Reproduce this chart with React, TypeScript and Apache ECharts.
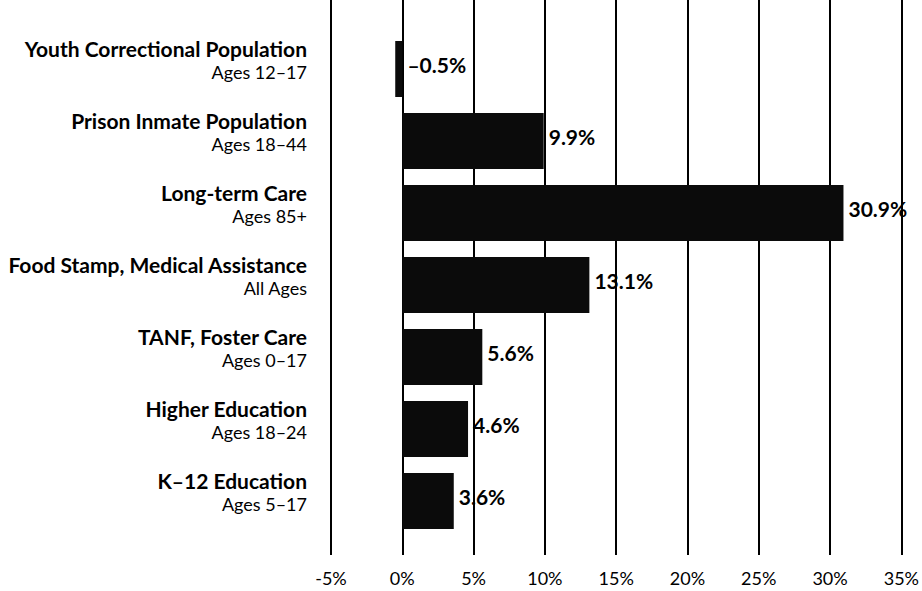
import React, { useEffect, useRef } from "react";
import * as echarts from "echarts";

const categories = [
  "Youth Correctional Population",
  "Prison Inmate Population",
  "Long-term Care",
  "Food Stamp, Medical Assistance",
  "TANF, Foster Care",
  "Higher Education",
  "K–12 Education",
];
const ageGroups = [
  "Ages 12–17",
  "Ages 18–44",
  "Ages 85+",
  "All Ages",
  "Ages 0–17",
  "Ages 18–24",
  "Ages 5–17",
];
const growth = [-0.5, 9.9, 30.9, 13.1, 5.6, 4.6, 3.6];
const xTicks = [-5, 0, 5, 10, 15, 20, 25, 30, 35];

const FONT = "Lato";

export default function App() {
  const ref = useRef<HTMLDivElement>(null);
  useEffect(() => {
    if (!ref.current) return;
    const chart = echarts.init(ref.current, null, { renderer: "svg" });
    const xMin = xTicks[0];
    const xMax = xTicks[xTicks.length - 1];
    chart.setOption({
      animation: false,
      backgroundColor: "#fff",
      grid: [
        { left: 331, right: 20, top: 0, bottom: 36 },
        { left: 331, right: 20, top: 33, bottom: 54 },
      ],
      xAxis: [
        {
          gridIndex: 0,
          type: "value",
          min: xMin,
          max: xMax,
          interval: 5,
          axisLine: { show: false },
          axisTick: { show: false },
          splitLine: { show: true, lineStyle: { color: "#000", width: 2 } },
          axisLabel: {
            formatter: (v: number) => v + "%",
            color: "#000",
            fontFamily: FONT,
            fontSize: 18,
            margin: 14,
          },
        },
        {
          gridIndex: 1,
          type: "value",
          min: xMin,
          max: xMax,
          show: false,
        },
      ],
      yAxis: [
        {
          gridIndex: 0,
          type: "category",
          data: [""],
          show: false,
        },
        {
          gridIndex: 1,
          type: "category",
          inverse: true,
          data: categories,
          axisLine: { show: false },
          axisTick: { show: false },
          splitLine: { show: false },
          axisLabel: {
            margin: 24,
            align: "right",
            lineHeight: 24,
            formatter: (v: string) => {
              const i = categories.indexOf(v);
              return "{a|" + v + "}\n{b|" + ageGroups[i] + "}\n{c| }";
            },
            rich: {
              a: {
                fontFamily: FONT,
                fontWeight: "bold",
                fontSize: 21,
                color: "#000",
                lineHeight: 24,
                align: "right",
              },
              b: {
                fontFamily: FONT,
                fontSize: 18,
                color: "#000",
                lineHeight: 24,
                align: "right",
              },
              c: {
                fontFamily: FONT,
                fontSize: 10,
                lineHeight: 18,
                align: "right",
              },
            },
          },
        },
      ],
      series: [
        {
          type: "bar",
          xAxisIndex: 1,
          yAxisIndex: 1,
          data: growth,
          barWidth: 56,
          itemStyle: { color: "#0b0b0b" },
          label: {
            show: true,
            position: "right",
            distance: 5,
            offset: [0, -5],
            color: "#000",
            fontFamily: FONT,
            fontWeight: "bold",
            fontSize: 21,
            formatter: (p: any) =>
              (p.value < 0 ? "–" + Math.abs(p.value).toFixed(1) : p.value.toFixed(1)) + "%",
          },
        },
      ],
    });
    return () => chart.dispose();
  }, []);
  return <div ref={ref} style={{ width: 922, height: 591, position: "absolute", left: 0, top: 0 }} />;
}
